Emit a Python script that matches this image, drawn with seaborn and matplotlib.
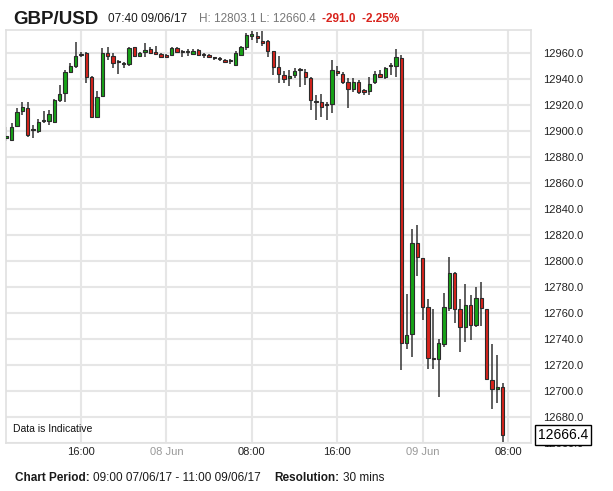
import numpy as np
import pandas as pd
import matplotlib
matplotlib.use("Agg")
import matplotlib.pyplot as plt
import matplotlib.transforms as mtransforms
import seaborn as sns

# 30 min candles, GBP/USD, 09:00 07/06/17 onwards
opens = [12895.0, 12893.1, 12903.8, 12915.6, 12918.0, 12901.5, 12900.3, 12907.7, 12908.0, 12907.2,
         12923.8, 12929.0, 12945.6, 12950.0, 12959.5, 12960.3, 12941.3, 12910.5, 12927.0, 12960.0,
         12957.7, 12953.5, 12951.3, 12951.3, 12964.4, 12957.7, 12961.0, 12962.8, 12959.7, 12959.2,
         12958.5, 12958.5, 12963.6, 12961.0, 12960.7, 12959.2, 12962.3, 12958.5, 12958.7, 12956.3,
         12955.6, 12954.9, 12954.3, 12951.0, 12958.2, 12964.4, 12973.4, 12972.2, 12969.5, 12969.0,
         12961.3, 12949.0, 12943.3, 12940.5, 12943.1, 12946.9, 12945.6, 12941.0, 12922.5, 12922.6,
         12920.5, 12920.5, 12946.4, 12943.6, 12937.4, 12932.1, 12937.4, 12930.6, 12930.8, 12937.4,
         12943.6, 12941.8, 12950.0, 12950.3, 12955.9, 12737.2, 12743.8, 12814.1, 12802.1, 12764.4,
         12725.0, 12724.4, 12736.2, 12763.6, 12791.0, 12762.8, 12749.5, 12766.2, 12750.8, 12771.3,
         12762.8, 12708.5, 12701.3, 12703.3]
highs = [12903.3, 12905.9, 12917.4, 12922.6, 12922.6, 12904.4, 12909.0, 12915.6, 12916.2, 12924.4,
         12935.1, 12947.2, 12952.1, 12968.7, 12961.0, 12961.0, 12942.3, 12931.0, 12964.0, 12964.9,
         12959.7, 12955.0, 12953.3, 12965.0, 12965.0, 12961.0, 12967.4, 12964.9, 12965.7, 12960.0,
         12959.0, 12964.4, 12964.9, 12962.3, 12962.8, 12963.3, 12963.0, 12959.7, 12959.0, 12957.2,
         12956.7, 12955.5, 12955.7, 12961.3, 12965.1, 12975.4, 12976.7, 12976.2, 12976.7, 12970.3,
         12961.8, 12957.4, 12946.4, 12946.9, 12948.2, 12948.2, 12947.7, 12941.8, 12927.7, 12928.2,
         12922.6, 12954.6, 12950.3, 12945.1, 12940.5, 12940.5, 12939.2, 12932.3, 12941.3, 12946.2,
         12946.9, 12949.5, 12952.1, 12963.1, 12958.5, 12774.6, 12824.4, 12827.7, 12802.1, 12770.5,
         12762.8, 12739.7, 12775.6, 12803.1, 12791.8, 12770.5, 12782.3, 12773.8, 12779.7, 12784.1,
         12762.8, 12736.2, 12727.7, 12705.9]
lows = [12892.0, 12892.6, 12903.3, 12912.6, 12895.6, 12894.9, 12898.2, 12906.4, 12904.6, 12906.4,
        12922.6, 12922.6, 12944.4, 12948.2, 12957.0, 12936.7, 12909.8, 12909.8, 12926.0, 12954.6,
        12948.2, 12943.8, 12948.2, 12950.0, 12957.0, 12957.0, 12957.0, 12959.2, 12959.2, 12955.9,
        12956.0, 12957.7, 12959.7, 12957.2, 12957.7, 12958.2, 12957.5, 12956.2, 12956.5, 12954.6,
        12954.1, 12952.5, 12951.5, 12950.5, 12957.4, 12962.6, 12970.3, 12967.7, 12965.1, 12956.7,
        12943.3, 12936.9, 12936.9, 12934.9, 12940.5, 12934.1, 12935.4, 12916.2, 12908.5, 12911.0,
        12908.5, 12913.6, 12942.6, 12935.9, 12917.4, 12930.3, 12928.2, 12927.7, 12927.7, 12935.9,
        12940.5, 12940.0, 12943.1, 12941.8, 12716.2, 12732.1, 12725.9, 12788.5, 12754.6, 12716.7,
        12716.7, 12695.1, 12733.6, 12761.8, 12752.1, 12730.3, 12737.9, 12739.2, 12749.5, 12750.0,
        12709.0, 12685.9, 12690.5, 12660.4]
closes = [12896.0, 12902.8, 12914.9, 12918.7, 12896.9, 12900.8, 12907.2, 12908.2, 12913.1, 12923.8,
          12928.5, 12945.6, 12950.0, 12957.7, 12958.5, 12941.8, 12910.5, 12926.4, 12960.2, 12957.7,
          12952.0, 12953.0, 12951.5, 12964.0, 12957.7, 12960.2, 12962.3, 12960.2, 12959.5, 12956.7,
          12956.7, 12963.6, 12961.0, 12960.5, 12961.3, 12961.8, 12958.2, 12958.2, 12956.9, 12956.1,
          12955.3, 12953.1, 12954.0, 12960.0, 12964.4, 12974.1, 12973.8, 12971.8, 12967.7, 12961.8,
          12949.0, 12943.8, 12940.3, 12942.1, 12946.4, 12946.7, 12941.8, 12923.8, 12922.0, 12918.7,
          12920.2, 12946.9, 12944.4, 12937.9, 12932.1, 12937.4, 12930.3, 12930.3, 12935.9, 12943.6,
          12941.8, 12948.7, 12950.3, 12957.2, 12737.2, 12743.1, 12814.1, 12802.8, 12764.9, 12725.1,
          12724.4, 12736.7, 12764.4, 12791.0, 12762.8, 12749.5, 12766.2, 12750.8, 12771.3, 12763.6,
          12709.0, 12701.3, 12702.8, 12666.4]

y_ticks = list(range(12660, 12961, 20))

df = pd.DataFrame({"open": opens, "high": highs, "low": lows, "close": closes})
df["x"] = np.arange(len(df))
df["up"] = df["close"] >= df["open"]

sns.set_theme(style="white")
plt.rcParams["font.family"] = ["Liberation Sans", "DejaVu Sans"]

fig = plt.figure(figsize=(6.13, 4.91), dpi=100)
ax = fig.add_axes([6 / 613, 1 - 443 / 491, 525 / 613, 413 / 491])

green = "#17a317"
red = "#d8231c"
edge = "#2b2b2b"

# wicks
ax.vlines(df["x"], df["low"], df["high"], color="#333333", lw=1.1, zorder=2)
# bodies
body = (df["close"] - df["open"]).abs().clip(lower=0.9)
bottom = df[["open", "close"]].min(axis=1)
cols = np.where(df["up"], green, red)
ax.bar(df["x"], body, bottom=bottom, width=0.62, color=cols,
       edgecolor=edge, linewidth=0.8, zorder=3)

# x ticks: every 8 hours
all_times = pd.date_range("2017-06-07 09:00", periods=len(df) + 8, freq="30min")
tick_pos, tick_lab = [], []
for i, t in enumerate(all_times):
    if t.minute == 0 and t.hour in (0, 8, 16):
        tick_pos.append(i)
        tick_lab.append(t.strftime("%d %b") if t.hour == 0 else t.strftime("%H:%M"))

ax.set_xlim(-0.05, 98.3)
ax.set_ylim(12660, 12977.7)
ax.set_xticks(tick_pos)
ax.set_xticklabels(tick_lab, fontsize=8, color="#222222")
for lab in ax.get_xticklabels():
    if "Jun" in lab.get_text():
        lab.set_color("#999999")
ax.set_yticks(y_ticks)
ax.set_yticklabels([f"{v:.1f}" for v in y_ticks], fontsize=8, color="#222222")
ax.yaxis.tick_right()
ax.tick_params(axis="both", length=0)
ax.tick_params(axis="y", pad=9)
ax.tick_params(axis="x", pad=3)
ax.grid(True, color="#e6e6e6", lw=1.5)
ax.set_axisbelow(True)
for s in ax.spines.values():
    s.set_color("#e0e0e0")
    s.set_linewidth(1.2)

trans = mtransforms.blended_transform_factory(ax.transAxes, ax.transData)
ax.text(1.013, closes[-1], f"{closes[-1]:.1f}", transform=trans, fontsize=10,
        va="center", ha="left", color="black",
        bbox=dict(boxstyle="square,pad=0.22", fc="white", ec="black", lw=1), zorder=10)

ax.text(0.014, 0.022, "Data is Indicative", transform=ax.transAxes, fontsize=7.5,
        color="#111111", va="bottom", ha="left")

renderer = fig.canvas.get_renderer()


def text_run(x_px, y_px, parts):
    # place pieces of text one after another, in pixels from top-left
    x = x_px
    for txt, kw, gap in parts:
        t = fig.text(x / 613, 1 - y_px / 491, txt, va="center", ha="left", **kw)
        bb = t.get_window_extent(renderer=renderer)
        x = bb.x1 + gap


text_run(13, 19, [
    ("GBP/USD", dict(fontsize=13.5, fontweight="bold", color="#1a1a1a"), 10),
    ("07:40 09/06/17", dict(fontsize=8.5, color="#1a1a1a"), 12),
    ("H: 12803.1 L: 12660.4", dict(fontsize=8.5, color="#777777"), 6),
    ("-291.0  -2.25%", dict(fontsize=8.5, color=red, fontweight="bold"), 0),
])

text_run(15, 478, [
    ("Chart Period:", dict(fontsize=8.5, fontweight="bold", color="#1a1a1a"), 3),
    ("09:00 07/06/17 - 11:00 09/06/17", dict(fontsize=8.5, color="#1a1a1a"), 14),
    ("Resolution:", dict(fontsize=8.5, fontweight="bold", color="#1a1a1a"), 3),
    ("30 mins", dict(fontsize=8.5, color="#1a1a1a"), 0),
])

fig.savefig("out.png", dpi=100)
